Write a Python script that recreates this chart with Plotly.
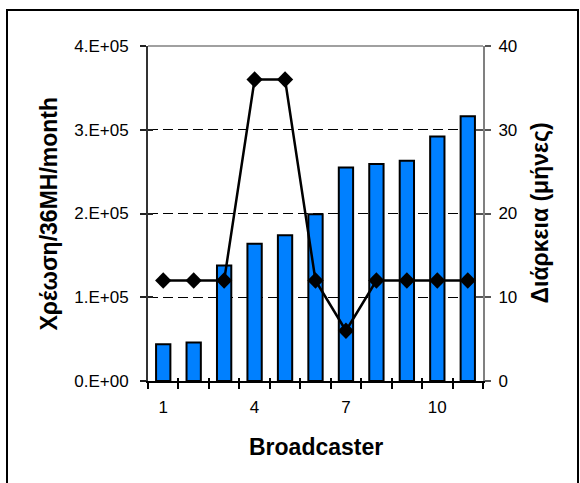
import plotly.graph_objects as go

# ---- data ----
broadcasters = list(range(1, 12))
charge = [44000, 46000, 138000, 164000, 174000, 199000, 255000, 259000, 263000, 292000, 316000]
duration = [12, 12, 12, 36, 36, 12, 6, 12, 12, 12, 12]
x_tick_vals = [1, 4, 7, 10]
x_tick_text = ["1", "4", "7", "10"]
y_tick_vals = [0, 100000, 200000, 300000, 400000]
y_tick_text = ["0.E+00", "1.E+05", "2.E+05", "3.E+05", "4.E+05"]
y2_tick_vals = [0, 10, 20, 30, 40]
y2_tick_text = ["0", "10", "20", "30", "40"]
x_boundaries = [0.5 + i for i in range(12)]
x_title = "Broadcaster"
y_title = "Χρέωση/36MH/month"
y2_title = "Διάρκεια (μήνες)"

FONT = "Arial, 'Liberation Sans', sans-serif"
W, H = 580, 483
L, R, T, B = 148, 97, 46, 102
PW, PH = W - L - R, H - T - B

def px_to_paper_x(px):
    return (px - L) / PW

def px_to_paper_y(py):
    return (H - B - py) / PH

fig = go.Figure()
fig.add_trace(go.Bar(
    x=broadcasters, y=charge, xaxis="x", yaxis="y",
    marker=dict(color="#0080FF", line=dict(color="black", width=2)),
    hoverinfo="skip", showlegend=False,
))
fig.add_trace(go.Scatter(
    x=broadcasters, y=duration, xaxis="x", yaxis="y2",
    mode="lines+markers",
    line=dict(color="black", width=2.5),
    marker=dict(symbol="diamond", size=12.5, color="black"),
    showlegend=False,
))
# dummy traces to activate overlay axes that draw inward tick halves
fig.add_trace(go.Scatter(x=[None], y=[None], xaxis="x2", yaxis="y3", showlegend=False, hoverinfo="skip"))
fig.add_trace(go.Scatter(x=[None], y=[None], xaxis="x2", yaxis="y4", showlegend=False, hoverinfo="skip"))

tickfont = dict(family=FONT, size=17, color="black")
titlefont = dict(family=FONT, size=23, color="black")

fig.update_layout(
    width=W, height=H, autosize=False,
    margin=dict(l=L, r=R, t=T, b=B, pad=0),
    paper_bgcolor="white", plot_bgcolor="white",
    bargap=0.53,
    showlegend=False,
    xaxis=dict(
        range=[0.5, 11.5], tickmode="array", tickvals=x_tick_vals, ticktext=x_tick_text,
        ticks="outside", ticklen=10, tickcolor="rgba(0,0,0,0)", tickfont=tickfont,
        minor=dict(tickmode="array", tickvals=x_boundaries, ticks="outside", ticklen=6,
                   tickwidth=1.5, tickcolor="black", showgrid=False),
        showline=True, linecolor="black", linewidth=2, showgrid=False, zeroline=False,
        fixedrange=True,
    ),
    xaxis2=dict(
        overlaying="x", anchor="y", range=[0.5, 11.5], tickmode="array", tickvals=x_boundaries,
        ticks="inside", ticklen=3, tickwidth=1.5, tickcolor="black", showticklabels=False,
        showline=False, showgrid=False, zeroline=False, side="bottom",
    ),
    yaxis=dict(
        range=[0, 400000], tickmode="array", tickvals=y_tick_vals, ticktext=y_tick_text,
        ticks="outside", ticklen=6, tickwidth=1.5, tickcolor="#222", tickfont=tickfont,
        showline=True, linecolor="#333", linewidth=2,
        showgrid=True, gridcolor="black", gridwidth=1, griddash="10px,5px",
        zeroline=False, ticklabelstandoff=8,
    ),
    yaxis2=dict(
        overlaying="y", side="right", anchor="x", range=[0, 40],
        tickmode="array", tickvals=y2_tick_vals, ticktext=y2_tick_text,
        ticks="outside", ticklen=6, tickwidth=1.5, tickcolor="#555", tickfont=tickfont,
        showline=True, linecolor="#808080", linewidth=2, showgrid=False, zeroline=False,
        ticklabelstandoff=4,
    ),
    yaxis3=dict(
        overlaying="y", side="left", anchor="x2", range=[0, 400000], tickmode="array",
        tickvals=y_tick_vals, ticks="inside", ticklen=5, tickwidth=1.5, tickcolor="#222",
        showticklabels=False, showline=False, showgrid=False, zeroline=False,
    ),
    yaxis4=dict(
        overlaying="y", side="right", anchor="x2", range=[0, 40], tickmode="array",
        tickvals=y2_tick_vals, ticks="inside", ticklen=7, tickwidth=1.5, tickcolor="#555",
        showticklabels=False, showline=False, showgrid=False, zeroline=False,
    ),
    shapes=[
        # top border of plot area (gray)
        dict(type="line", xref="paper", yref="paper", x0=0, x1=1, y0=1, y1=1,
             line=dict(color="#A0A0A0", width=2), layer="above"),
        # outer chart frame (extends past the image at the bottom)
        dict(type="rect", xref="paper", yref="paper",
             x0=px_to_paper_x(7), x1=px_to_paper_x(578),
             y0=px_to_paper_y(500), y1=px_to_paper_y(10),
             line=dict(color="black", width=2), fillcolor="rgba(0,0,0,0)", layer="below"),
    ],
    annotations=[
        dict(text=f"<b>{x_title}</b>", xref="paper", yref="paper",
             x=0.5, y=px_to_paper_y(447), xanchor="center", yanchor="middle",
             showarrow=False, font=titlefont),
        dict(text=f"<b>{y_title}</b>", xref="paper", yref="paper",
             x=px_to_paper_x(48), y=0.5, xanchor="center", yanchor="middle",
             textangle=-90, showarrow=False, font=titlefont),
        dict(text=f"<b>{y2_title}</b>", xref="paper", yref="paper",
             x=px_to_paper_x(539), y=0.5, xanchor="center", yanchor="middle",
             textangle=-90, showarrow=False, font=titlefont),
    ],
)

fig.write_html("out.html", config={"displayModeBar": False})
